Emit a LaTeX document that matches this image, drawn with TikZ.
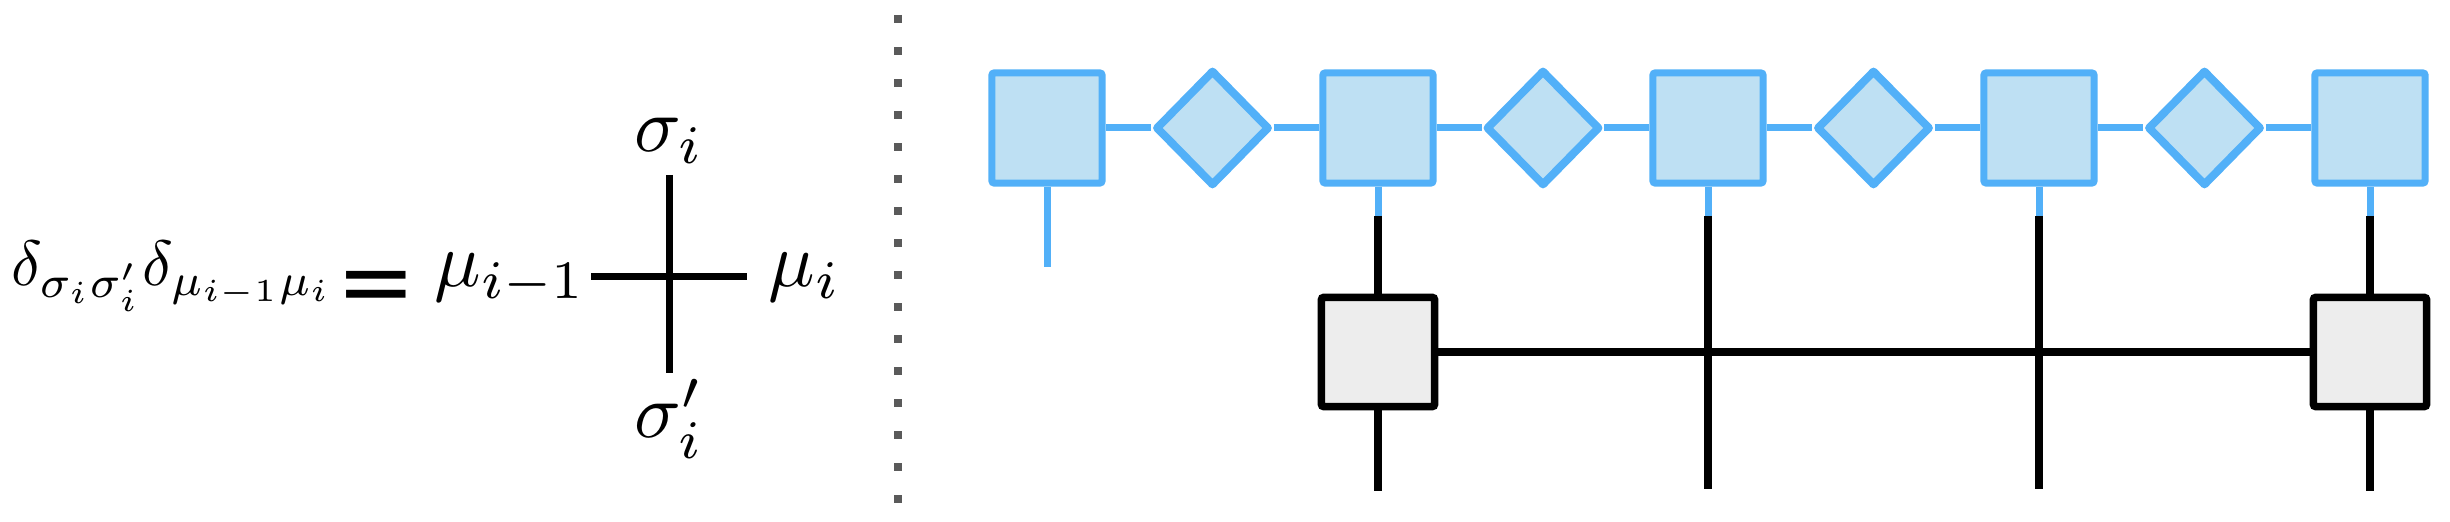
\documentclass[tikz,border=0pt]{standalone}
\usepackage{amsmath}
\usepackage{fontspec}
\newfontfamily\eqfont{DejaVu Sans}
\usetikzlibrary{shapes.geometric}

\definecolor{mpsline}{RGB}{82,176,248}
\definecolor{mpsfill}{RGB}{190,224,243}
\definecolor{opfill}{RGB}{237,237,237}
\definecolor{dotgray}{RGB}{90,90,90}

\tikzset{
  site/.style={draw=mpsline, fill=mpsfill, line width=0.07cm, rounded corners=0.6pt,
    minimum width=1.10cm, minimum height=1.10cm, inner sep=0pt},
  bond/.style={shape=diamond, draw=mpsline, fill=mpsfill, line width=0.08cm, line join=round,
    minimum width=1.14cm, minimum height=1.16cm, inner sep=0pt},
  op/.style={draw=black, fill=opfill, line width=0.075cm, rounded corners=0.6pt,
    minimum width=1.13cm, minimum height=1.09cm, inner sep=0pt},
  bleg/.style={draw=mpsline, line width=0.07cm},
  kleg/.style={draw=black, line width=0.08cm},
  lbl/.style={inner sep=0pt, scale=2.2}
}

\begin{document}
\begin{tikzpicture}[x=0.01cm, y=-0.01cm]
\useasboundingbox (0,0) rectangle (2450,522);

\node (lhs) at (10,286) [anchor=base west, inner sep=0pt, scale=1.82] {$\delta_{\sigma_i\sigma'_i}\delta_{\mu_{i-1}\mu_i}$};
\node (eq) at (376,315) [anchor=base, inner sep=0pt, font=\eqfont\fontsize{27}{30}\selectfont] {=};

\node (mul) at (433,287) [lbl, anchor=base west] {$\mu_{i-1}$};
\node (mur) at (767,287) [lbl, anchor=base west] {$\mu_i$};
\node (sgu) at (669,152) [lbl, anchor=base] {$\sigma_i$};
\node (sgd) at (669,438) [lbl, anchor=base] {$\sigma'_i$};

\coordinate (cl) at (591,277);
\coordinate (cr) at (747,277);
\coordinate (ct) at (669,175);
\coordinate (cb) at (669,373);
\draw [line width=0.07cm] (cl) -- (cr);
\draw [line width=0.07cm] (ct) -- (cb);

\coordinate (dtop) at (898,15);
\coordinate (dbot) at (898,507);
\draw [dotgray, line width=0.08cm, dash pattern=on 0.08cm off 0.24cm] (dtop) -- (dbot);

\foreach \i/\x in {1/1047, 2/1378, 3/1708, 4/2039, 5/2370}
  \node [site] (S\i) at (\x,128) {};
\foreach \i/\x in {1/1212.5, 2/1543, 3/1873.5, 4/2204.5}
  \node [bond] (D\i) at (\x,128) {};

\draw [bleg] (S1) -- (D1) -- (S2) -- (D2) -- (S3) -- (D3) -- (S4) -- (D4) -- (S5);

\node [op] (G1) at (1378,352) {};
\node [op] (G2) at (2370,352) {};

\coordinate (e1) at (1047,267);
\draw [bleg] (S1) -- (e1);

\foreach \i/\x in {2/1378, 3/1708, 4/2039, 5/2370} {
  \coordinate (k\i) at (\x,216);
  \draw [bleg] (S\i) -- (k\i);
}

\coordinate (e2) at (1378,491);
\coordinate (e3) at (1708,489);
\coordinate (e4) at (2039,489);
\coordinate (e5) at (2370,491);

\draw [kleg] (k2) -- (G1);
\draw [kleg] (G1) -- (e2);
\draw [kleg] (k3) -- (e3);
\draw [kleg] (k4) -- (e4);
\draw [kleg] (k5) -- (G2);
\draw [kleg] (G2) -- (e5);
\draw [kleg] (G1) -- (G2);

\end{tikzpicture}
\end{document}
